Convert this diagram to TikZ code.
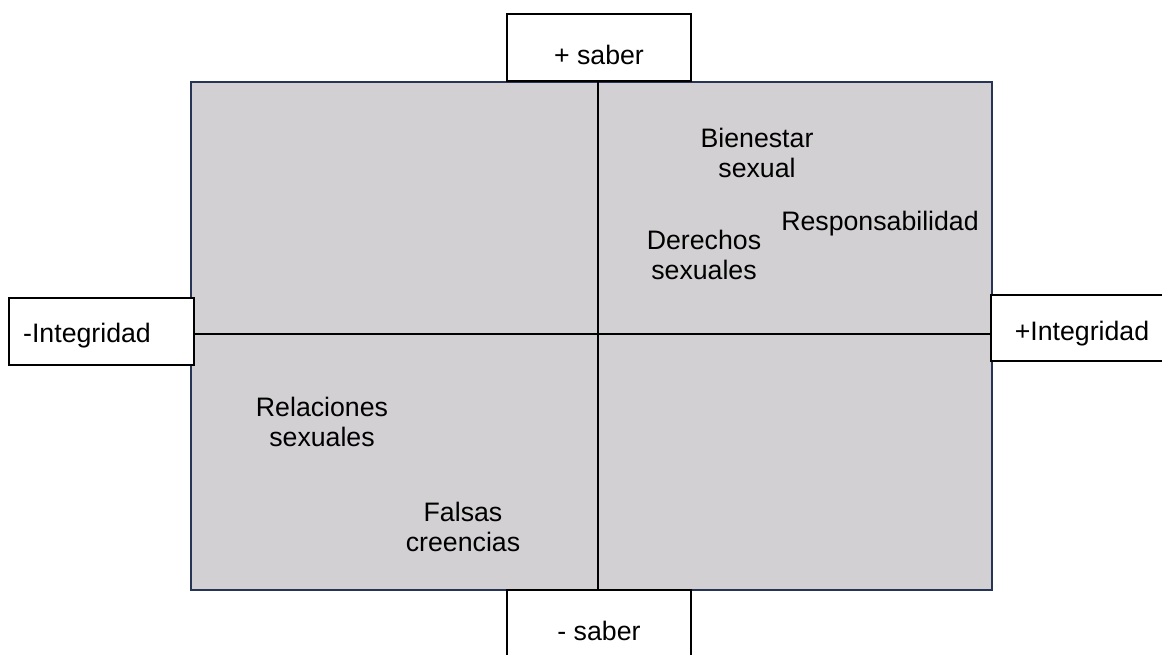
\documentclass[tikz,border=0pt]{standalone}
\usepackage{fontspec}
\setmainfont{Liberation Sans}
\definecolor{quadfill}{RGB}{210,208,210}
\definecolor{quadborder}{RGB}{38,52,86}
\begin{document}
\begin{tikzpicture}[x=0.02cm,y=-0.02cm,
  lbl/.style={font=\fontsize{15.2}{17.2}\selectfont, align=center, inner sep=0pt},
  axisbox/.style={draw=black, line width=1.1pt, fill=white}]
\useasboundingbox (0,0) rectangle (1162,654);
% quadrant area
\draw[fill=quadfill, draw=quadborder, line width=1pt] (191,82) rectangle (992,590);
\coordinate (vt) at (598,82);
\coordinate (vb) at (598,590);
\coordinate (hl) at (191,334);
\coordinate (hr) at (992,334);
\draw[line width=1.1pt] (vt) -- (vb);
\draw[line width=1.1pt] (hl) -- (hr);
% axis boxes
\draw[axisbox] (507,14) rectangle (691,81);
\node[lbl] (top) at (599,55) {+ saber};
\draw[axisbox] (507,590) rectangle (691,680);
\node[lbl] (bot) at (599,631) {- saber};
\draw[axisbox] (9,298) rectangle (194,365);
\node[lbl] (left) at (87,336) {-Integridad};
\draw[axisbox] (991,295) rectangle (1180,361);
\node[lbl] (right) at (1082,334) {+Integridad};
% labels
\node[lbl] (bien) at (757,153) {Bienestar\\sexual};
\node[lbl] (resp) at (880,224) {Responsabilidad};
\node[lbl] (dere) at (704,255) {Derechos\\sexuales};
\node[lbl] (rela) at (322,422) {Relaciones\\sexuales};
\node[lbl] (fals) at (463,527) {Falsas\\creencias};
\end{tikzpicture}
\end{document}
